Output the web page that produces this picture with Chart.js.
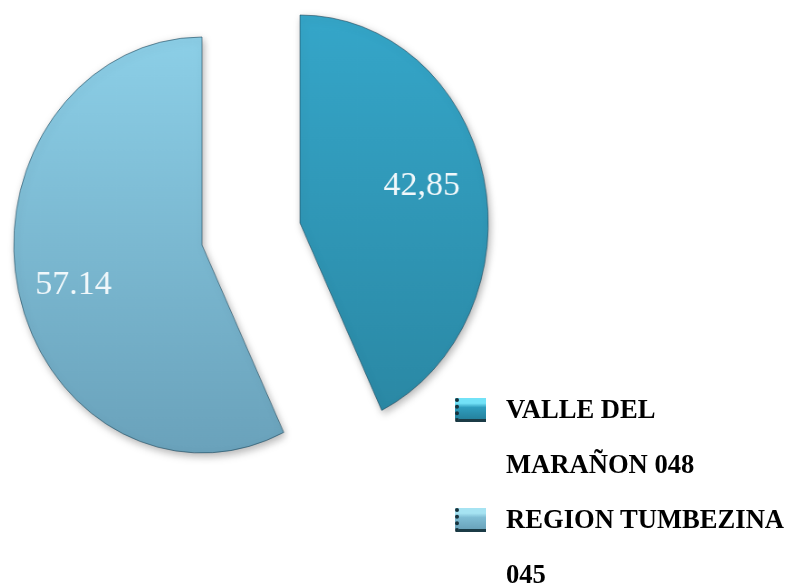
<!DOCTYPE html>
<html>
<head>
<meta charset="utf-8">
<script src="https://cdn.jsdelivr.net/npm/chart.js@4.4.0/dist/chart.umd.min.js"></script>
<style>
  body {
    margin: 0;
    background: #fff;
    width: 787px;
    height: 586px;
    overflow: hidden;
    position: relative;
    font-family: "Liberation Serif", "Times New Roman", serif;
  }
  .slice {
    position: absolute;
    width: 440px;
    height: 440px;
    transform: scaleX(0.905);
  }
  #slice0 { left: 80px; top: 3px; }
  #slice1 { left: -18px; top: 25px; }
  #legend {
    position: absolute;
    left: 455px;
    top: 382px;
  }
  .item { display: flex; align-items: flex-start; }
  .box {
    display: block;
    width: 27px;
    height: 21px;
    margin-top: 16px;
    border-left: 4px dotted #17323c;
    border-bottom: 3px solid #1b3b46;
    flex: none;
  }
  .txt {
    width: 284px;
    margin-left: 20px;
    font-weight: bold;
    font-size: 26.6px;
    line-height: 55px;
    color: #000;
  }
</style>
</head>
<body>
<div class="slice" id="slice0"><canvas id="pie0"></canvas></div>
<div class="slice" id="slice1"><canvas id="pie1"></canvas></div>
<div id="legend"></div>
<script>
const categories = ["VALLE DEL MARAÑON 048", "REGION TUMBEZINA 045"];
const values = [42.85, 57.14];
const valueLabels = ["42,85", "57.14"];

const topColors = ["#35a6c9", "#8ccfe7"];
const bottomColors = ["#2a87a3", "#6aa2bb"];
const iconColors = [
  ["#72e2f7", "#2f9ebe", "#25829e"],
  ["#a6e3f2", "#7fbdd4", "#6aa3bb"],
];
// where the value text sits: share of the slice angle, share of the radius
const labelAngle = [0.485, 0.485];
const labelRadius = [0.67, 0.71];
const squeeze = 0.905;

// shadow round the slices
const shadowPlugin = {
  id: "shadow",
  beforeDatasetDraw(chart) {
    const c = chart.ctx;
    c.save();
    c.shadowColor = "rgba(0,0,0,0.3)";
    c.shadowBlur = 8;
    c.shadowOffsetX = 2;
    c.shadowOffsetY = 3;
  },
  afterDatasetDraw(chart) {
    chart.ctx.restore();
  },
};

// value text inside the slice
const valueLabelPlugin = {
  id: "valueLabel",
  afterDatasetsDraw(chart, args, opts) {
    const i = opts.index;
    const arc = chart.getDatasetMeta(0).data[i];
    const a = arc.startAngle + (arc.endAngle - arc.startAngle) * labelAngle[i];
    const r = arc.outerRadius * labelRadius[i];
    const c = chart.ctx;
    c.save();
    c.translate(arc.x + Math.cos(a) * r, arc.y + Math.sin(a) * r);
    c.scale(1 / squeeze, 1);
    c.font = "34px 'Liberation Serif'";
    c.fillStyle = "#f1f8fb";
    c.textAlign = "center";
    c.textBaseline = "middle";
    c.fillText(valueLabels[i], 0, 0);
    c.restore();
  },
};

function makeSlice(shown) {
  new Chart(document.getElementById("pie" + shown), {
    type: "pie",
    data: {
      labels: categories,
      datasets: [
        {
          data: values,
          backgroundColor(ctx) {
            const i = ctx.dataIndex;
            if (i !== shown) return "rgba(0,0,0,0)";
            const area = ctx.chart.chartArea;
            if (!area) return topColors[i];
            const g = ctx.chart.ctx.createLinearGradient(0, area.top + 12, 0, area.bottom - 12);
            g.addColorStop(0, topColors[i]);
            g.addColorStop(1, bottomColors[i]);
            return g;
          },
          borderColor: categories.map((c, i) => (i === shown ? "rgba(30,70,90,0.6)" : "rgba(0,0,0,0)")),
          borderWidth: categories.map((c, i) => (i === shown ? 1 : 0)),
        },
      ],
    },
    options: {
      responsive: true,
      maintainAspectRatio: false,
      animation: false,
      events: [],
      radius: 208,
      layout: { padding: 0 },
      plugins: {
        legend: { display: false },
        tooltip: { enabled: false },
        valueLabel: { index: shown },
      },
    },
    plugins: [shadowPlugin, valueLabelPlugin],
  });
}

makeSlice(0);
makeSlice(1);

// legend
const legend = document.getElementById("legend");
categories.forEach((name, i) => {
  const item = document.createElement("div");
  item.className = "item";
  const box = document.createElement("span");
  box.className = "box";
  const [hi, mid, lo] = iconColors[i];
  box.style.background = `linear-gradient(${hi} 0%, ${hi} 25%, ${mid} 45%, ${lo} 100%)`;
  const txt = document.createElement("div");
  txt.className = "txt";
  txt.textContent = name;
  item.append(box, txt);
  legend.append(item);
});
</script>
</body>
</html>
